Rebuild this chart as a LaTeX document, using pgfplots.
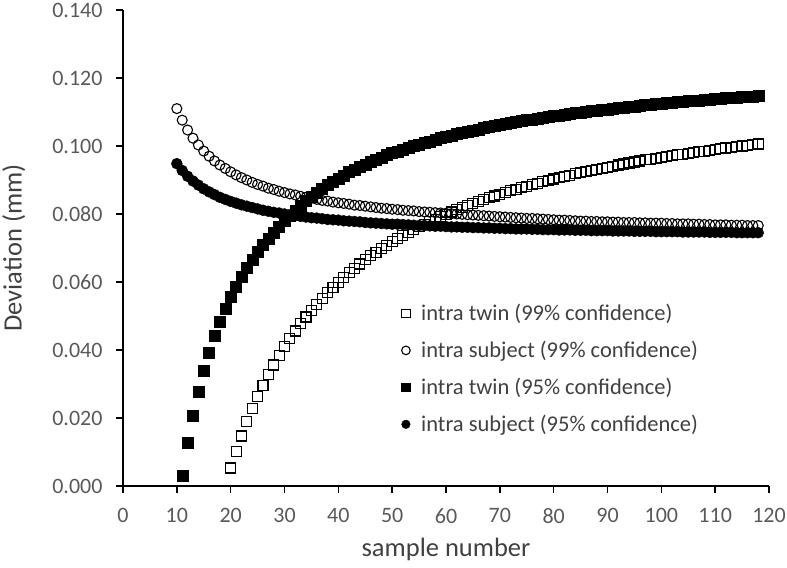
\documentclass[border=0pt]{standalone}
\usepackage{fontspec}
\setmainfont{Carlito}
\usepackage{pgfplots}
\pgfplotsset{compat=1.18}
\definecolor{txt}{HTML}{595959}
\definecolor{legtxt}{HTML}{404040}
\begin{document}
\begin{tikzpicture}
\useasboundingbox (-123bp,-82bp) rectangle (664bp,486bp);
\begin{axis}[
    at={(0,0)}, anchor=south west,
    scale only axis,
    width=646bp, height=476bp,
    xmin=0, xmax=120, ymin=0, ymax=0.14,
    xtick={0,10,...,120},
    ytick={0,0.02,0.04,0.06,0.08,0.10,0.12,0.14},
    scaled y ticks=false,
    axis x line*=bottom, axis y line*=left,
    axis line style={black, line width=1.6bp},
    tick align=outside, major tick length=7bp,
    major tick style={black, line width=1.4bp},
    ticklabel style={font=\fontsize{22bp}{26bp}\selectfont, text=txt},
    xticklabel style={yshift=-12bp},
    yticklabel style={xshift=-10bp, /pgf/number format/.cd, fixed, fixed zerofill, precision=3},
    /pgf/number format/assume math mode=true,
    xlabel={sample number}, ylabel={Deviation (mm)},
    every axis x label/.style={at={(axis description cs:0.5,-0.134)}, anchor=center,
        font=\fontsize{26.5bp}{30bp}\selectfont, text=legtxt},
    every axis y label/.style={at={(axis description cs:-0.169,0.5)}, anchor=center, rotate=90,
        font=\fontsize{26.5bp}{30bp}\selectfont, text=legtxt},
    legend style={at={(axis description cs:0.431,0.386)}, anchor=north west,
        draw=none, fill=none, inner sep=0pt, row sep=15bp, column sep=9bp,
        font=\fontsize{22.5bp}{27bp}\selectfont, text=legtxt,
        nodes={inner sep=2bp}},
    legend cell align=left,
    legend image code/.code={\draw[#1, mark size=4.3bp] plot coordinates {(0bp,0bp)};},
]
% intra twin (99% confidence)
\addplot[only marks, mark=square, mark size=5bp, mark options={draw=black, line width=1.1bp}] coordinates {
(20,0.0053) (21,0.0102) (22,0.0147) (23,0.0189) (24,0.0227) (25,0.0263) (26,0.0296) (27,0.0327) (28,0.0356) (29,0.0383)
(30,0.0409) (31,0.0433) (32,0.0456) (33,0.0477) (34,0.0497) (35,0.0517) (36,0.0535) (37,0.0552) (38,0.0569) (39,0.0585)
(40,0.0599) (41,0.0614) (42,0.0627) (43,0.0641) (44,0.0653) (45,0.0665) (46,0.0677) (47,0.0688) (48,0.0698) (49,0.0708)
(50,0.0718) (51,0.0728) (52,0.0737) (53,0.0746) (54,0.0754) (55,0.0762) (56,0.0770) (57,0.0778) (58,0.0785) (59,0.0792)
(60,0.0799) (61,0.0806) (62,0.0813) (63,0.0819) (64,0.0825) (65,0.0831) (66,0.0837) (67,0.0842) (68,0.0848) (69,0.0853)
(70,0.0858) (71,0.0863) (72,0.0868) (73,0.0873) (74,0.0878) (75,0.0882) (76,0.0886) (77,0.0891) (78,0.0895) (79,0.0899)
(80,0.0903) (81,0.0907) (82,0.0911) (83,0.0914) (84,0.0918) (85,0.0922) (86,0.0925) (87,0.0928) (88,0.0932) (89,0.0935)
(90,0.0938) (91,0.0941) (92,0.0944) (93,0.0947) (94,0.0950) (95,0.0953) (96,0.0956) (97,0.0959) (98,0.0961) (99,0.0964)
(100,0.0966) (101,0.0969) (102,0.0971) (103,0.0974) (104,0.0976) (105,0.0979) (106,0.0981) (107,0.0983) (108,0.0985) (109,0.0988)
(110,0.0990) (111,0.0992) (112,0.0994) (113,0.0996) (114,0.0998) (115,0.1000) (116,0.1002) (117,0.1004) (118,0.1006)
};
% intra subject (99% confidence)
\addplot[only marks, mark=o, mark size=5bp, mark options={draw=black, line width=1.1bp}] coordinates {
(10,0.1110) (11,0.1076) (12,0.1047) (13,0.1023) (14,0.1003) (15,0.0985) (16,0.0970) (17,0.0956) (18,0.0944) (19,0.0934)
(20,0.0924) (21,0.0915) (22,0.0907) (23,0.0900) (24,0.0893) (25,0.0887) (26,0.0882) (27,0.0876) (28,0.0872) (29,0.0867)
(30,0.0863) (31,0.0859) (32,0.0856) (33,0.0852) (34,0.0849) (35,0.0846) (36,0.0843) (37,0.0840) (38,0.0838) (39,0.0835)
(40,0.0833) (41,0.0831) (42,0.0829) (43,0.0826) (44,0.0825) (45,0.0823) (46,0.0821) (47,0.0819) (48,0.0817) (49,0.0816)
(50,0.0814) (51,0.0813) (52,0.0811) (53,0.0810) (54,0.0809) (55,0.0807) (56,0.0806) (57,0.0805) (58,0.0804) (59,0.0803)
(60,0.0802) (61,0.0801) (62,0.0800) (63,0.0799) (64,0.0798) (65,0.0797) (66,0.0796) (67,0.0795) (68,0.0794) (69,0.0793)
(70,0.0792) (71,0.0791) (72,0.0790) (73,0.0789) (74,0.0788) (75,0.0787) (76,0.0787) (77,0.0786) (78,0.0785) (79,0.0784)
(80,0.0783) (81,0.0782) (82,0.0782) (83,0.0781) (84,0.0780) (85,0.0779) (86,0.0779) (87,0.0778) (88,0.0778) (89,0.0777)
(90,0.0777) (91,0.0776) (92,0.0776) (93,0.0775) (94,0.0775) (95,0.0775) (96,0.0774) (97,0.0774) (98,0.0773) (99,0.0773)
(100,0.0773) (101,0.0772) (102,0.0772) (103,0.0771) (104,0.0771) (105,0.0771) (106,0.0770) (107,0.0770) (108,0.0769) (109,0.0769)
(110,0.0768) (111,0.0768) (112,0.0768) (113,0.0767) (114,0.0767) (115,0.0767) (116,0.0766) (117,0.0766) (118,0.0766)
};
% intra twin (95% confidence)
\addplot[only marks, mark=square*, mark size=5.5bp, mark options={draw=black, fill=black}] coordinates {
(11,0.0031) (12,0.0126) (13,0.0207) (14,0.0278) (15,0.0339) (16,0.0393) (17,0.0441) (18,0.0484) (19,0.0522)
(20,0.0556) (21,0.0587) (22,0.0616) (23,0.0642) (24,0.0666) (25,0.0688) (26,0.0709) (27,0.0728) (28,0.0746) (29,0.0763)
(30,0.0779) (31,0.0795) (32,0.0810) (33,0.0824) (34,0.0838) (35,0.0851) (36,0.0863) (37,0.0874) (38,0.0885) (39,0.0895)
(40,0.0905) (41,0.0914) (42,0.0923) (43,0.0931) (44,0.0939) (45,0.0946) (46,0.0953) (47,0.0960) (48,0.0967) (49,0.0973)
(50,0.0979) (51,0.0984) (52,0.0990) (53,0.0995) (54,0.1000) (55,0.1005) (56,0.1010) (57,0.1014) (58,0.1019) (59,0.1023)
(60,0.1027) (61,0.1031) (62,0.1035) (63,0.1039) (64,0.1042) (65,0.1046) (66,0.1049) (67,0.1053) (68,0.1056) (69,0.1059)
(70,0.1062) (71,0.1065) (72,0.1068) (73,0.1070) (74,0.1073) (75,0.1076) (76,0.1078) (77,0.1081) (78,0.1083) (79,0.1086)
(80,0.1088) (81,0.1090) (82,0.1092) (83,0.1095) (84,0.1097) (85,0.1099) (86,0.1101) (87,0.1103) (88,0.1105) (89,0.1107)
(90,0.1108) (91,0.1110) (92,0.1112) (93,0.1114) (94,0.1115) (95,0.1117) (96,0.1119) (97,0.1120) (98,0.1122) (99,0.1123)
(100,0.1125) (101,0.1126) (102,0.1128) (103,0.1129) (104,0.1130) (105,0.1132) (106,0.1133) (107,0.1134) (108,0.1136) (109,0.1137)
(110,0.1138) (111,0.1139) (112,0.1141) (113,0.1142) (114,0.1143) (115,0.1144) (116,0.1145) (117,0.1146) (118,0.1147)
};
% intra subject (95% confidence)
\addplot[only marks, mark=*, mark size=5.5bp, mark options={draw=black, fill=black}] coordinates {
(10,0.0948) (11,0.0928) (12,0.0911) (13,0.0897) (14,0.0885) (15,0.0874) (16,0.0865) (17,0.0857) (18,0.0849) (19,0.0843)
(20,0.0837) (21,0.0832) (22,0.0827) (23,0.0823) (24,0.0819) (25,0.0815) (26,0.0811) (27,0.0808) (28,0.0805) (29,0.0803)
(30,0.0800) (31,0.0798) (32,0.0795) (33,0.0793) (34,0.0791) (35,0.0789) (36,0.0788) (37,0.0786) (38,0.0784) (39,0.0783)
(40,0.0782) (41,0.0780) (42,0.0779) (43,0.0778) (44,0.0777) (45,0.0775) (46,0.0774) (47,0.0773) (48,0.0772) (49,0.0771)
(50,0.0770) (51,0.0770) (52,0.0769) (53,0.0768) (54,0.0767) (55,0.0766) (56,0.0766) (57,0.0765) (58,0.0764) (59,0.0764)
(60,0.0763) (61,0.0762) (62,0.0762) (63,0.0761) (64,0.0761) (65,0.0760) (66,0.0760) (67,0.0759) (68,0.0759) (69,0.0758)
(70,0.0758) (71,0.0757) (72,0.0757) (73,0.0756) (74,0.0756) (75,0.0756) (76,0.0755) (77,0.0755) (78,0.0754) (79,0.0754)
(80,0.0754) (81,0.0753) (82,0.0753) (83,0.0753) (84,0.0752) (85,0.0752) (86,0.0752) (87,0.0751) (88,0.0751) (89,0.0751)
(90,0.0751) (91,0.0750) (92,0.0750) (93,0.0750) (94,0.0750) (95,0.0749) (96,0.0749) (97,0.0749) (98,0.0749) (99,0.0748)
(100,0.0748) (101,0.0748) (102,0.0748) (103,0.0748) (104,0.0747) (105,0.0747) (106,0.0747) (107,0.0747) (108,0.0747) (109,0.0746)
(110,0.0746) (111,0.0746) (112,0.0746) (113,0.0746) (114,0.0745) (115,0.0745) (116,0.0745) (117,0.0745) (118,0.0745)
};
\legend{intra twin (99\% confidence), intra subject (99\% confidence), intra twin (95\% confidence), intra subject (95\% confidence)}
\end{axis}
\end{tikzpicture}
\end{document}
